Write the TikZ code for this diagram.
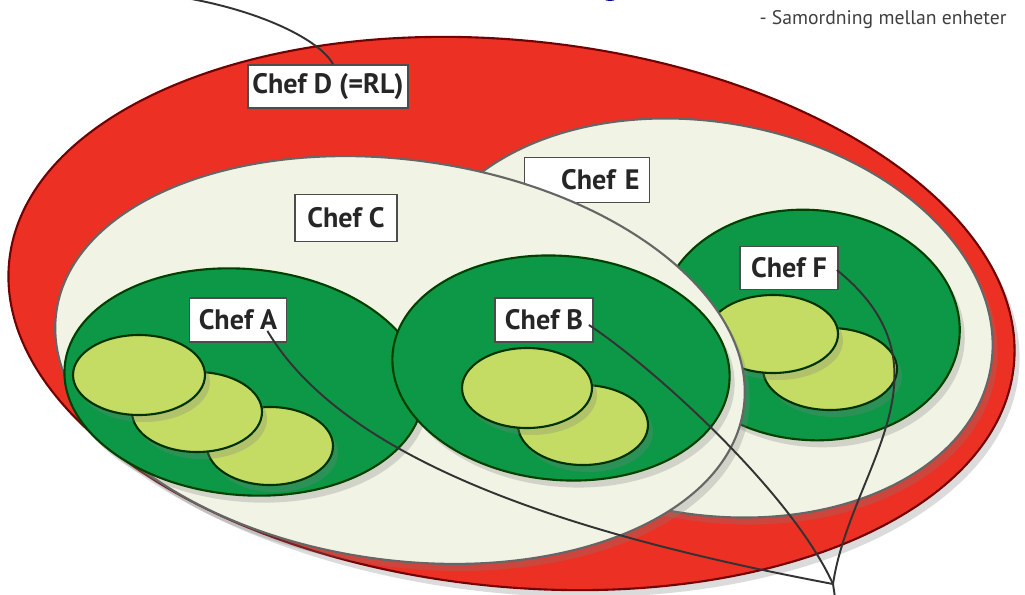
\documentclass[tikz,border=0pt]{standalone}
\usepackage{fontspec}
\setmainfont{PT Sans}
\usepackage{tikz}
\usetikzlibrary{calc,shadows}
\definecolor{ledred}{RGB}{236,48,36}
\definecolor{ledbeige}{RGB}{241,243,228}
\definecolor{ledgreen}{RGB}{12,152,70}
\definecolor{ledlight}{RGB}{196,220,100}

\tikzset{
  shade/.style={drop shadow={opacity=0.28, shadow xshift=0.05cm, shadow yshift=-0.07cm}},
  chefbox/.style={draw=black!70, fill=white, line width=0.5pt, inner sep=0pt,
    minimum height=0.44cm, minimum width=0.98cm,
    font=\fontsize{8}{9}\selectfont\bfseries, text=black!85},
  link/.style={black!80, line width=0.55pt}
}

\begin{document}
\begin{tikzpicture}
\useasboundingbox (0,0) rectangle (10.25,5.94);
\fill[white] (0,0) rectangle (10.25,5.94);

\fill[blue!55!black] (6.10,5.99) ellipse (0.09 and 0.06);
\node (note) at (8.83,5.74) {\fontsize{5.6}{6}\selectfont\color{black!75}- Samordning mellan enheter};

% the outer unit
\filldraw[fill=ledred, draw=red!45!black, line width=0.6pt, shade,
  rotate around={-6:(5.115,2.805)}] (5.115,2.805) ellipse (5.05 and 2.73);
\node[chefbox, minimum width=1.60cm, minimum height=0.43cm] (chefD) at (3.28,5.075) {Chef D (=RL)};

\filldraw[fill=ledbeige, draw=black!60, line width=0.6pt, shade,
  rotate around={-10:(7.05,2.76)}] (7.05,2.76) ellipse (2.90 and 1.96);
\node[chefbox, minimum width=1.25cm, minimum height=0.45cm, text width=1.05cm, align=right] (chefE) at (5.87,4.14) {Chef E};

\filldraw[fill=ledgreen, draw=green!25!black, line width=0.6pt, shade,
  rotate around={-5:(8.10,2.69)}] (8.10,2.69) ellipse (1.50 and 1.15);
\filldraw[fill=ledlight, draw=green!20!black, line width=0.6pt, shade] (8.30,2.25) ellipse (0.67 and 0.41);
\filldraw[fill=ledlight, draw=green!20!black, line width=0.6pt, shade] (7.73,2.60) ellipse (0.65 and 0.39);
\node[chefbox, minimum height=0.43cm] (chefF) at (7.89,3.26) {Chef F};

\filldraw[fill=ledbeige, draw=black!60, line width=0.6pt, shade,
  rotate around={-8:(4.00,2.34)}] (4.00,2.34) ellipse (3.47 and 2.00);
\node[chefbox, minimum width=1.02cm, minimum height=0.47cm] (chefC) at (3.46,3.76) {Chef C};

\filldraw[fill=ledgreen, draw=green!25!black, line width=0.6pt, shade,
  rotate around={-5:(2.44,2.12)}] (2.44,2.12) ellipse (1.80 and 1.13);
\filldraw[fill=ledlight, draw=green!20!black, line width=0.6pt, shade] (2.70,1.48) ellipse (0.63 and 0.39);
\filldraw[fill=ledlight, draw=green!20!black, line width=0.6pt, shade] (1.97,1.82) ellipse (0.65 and 0.40);
\filldraw[fill=ledlight, draw=green!20!black, line width=0.6pt, shade] (1.39,2.19) ellipse (0.66 and 0.40);
\node[chefbox, minimum width=0.97cm] (chefA) at (2.38,2.74) {Chef A};

\filldraw[fill=ledgreen, draw=green!25!black, line width=0.6pt, shade,
  rotate around={-5:(5.61,2.26)}] (5.61,2.26) ellipse (1.69 and 1.12);
\filldraw[fill=ledlight, draw=green!20!black, line width=0.6pt, shade] (5.83,1.69) ellipse (0.65 and 0.40);
\filldraw[fill=ledlight, draw=green!20!black, line width=0.6pt, shade] (5.27,2.06) ellipse (0.65 and 0.40);
\node[chefbox] (chefB) at (5.44,2.74) {Chef B};

% lines to the note below
\coordinate (hub) at (8.33,0.10);
\coordinate (hubout) at (8.36,-0.10);
\coordinate (top) at (1.80,5.97);

\draw[link] ($(chefA.south east)+(-0.20,0.12)$) .. controls (3.50,1.24) and (6.00,0.54) .. (hub);
\draw[link] ($(chefB.east)+(-0.05,-0.05)$) .. controls (6.50,2.29) and (7.90,1.04) .. (hub);
\draw[link] ($(chefF.east)+(-0.02,-0.02)$) .. controls (9.60,2.24) and (8.50,1.24) .. (hub);
\draw[link] (hub) -- (hubout);
\draw[link] (top) .. controls (2.60,5.84) and (3.20,5.54) .. ($(chefD.north)+(0.05,0)$);
\end{tikzpicture}
\end{document}
